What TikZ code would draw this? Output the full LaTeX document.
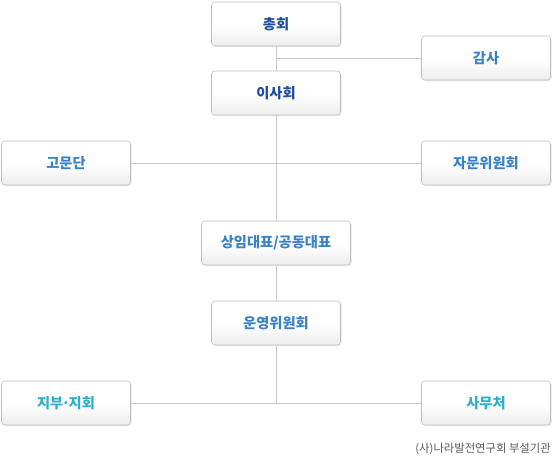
\documentclass[tikz,border=0pt]{standalone}
\usepackage{fontspec}
\setmainfont{Noto Sans CJK KR}
\usetikzlibrary{positioning}
\usetikzlibrary{shadows}

\definecolor{navyblue}{HTML}{1E4F9C}
\definecolor{midblue}{HTML}{3A82C8}
\definecolor{tealblue}{HTML}{2CB0C8}
\definecolor{linegray}{HTML}{C8C8C8}
\definecolor{boxgray}{HTML}{BDBDBD}

\begin{document}
\begin{tikzpicture}[
    x=0.75pt, y=-0.75pt,
    orgbox/.style={draw=boxgray, rounded corners=2.5pt, top color=white, bottom color=black!7,
        middle color=white, minimum width=96.75pt, minimum height=33pt,
        font=\fontsize{10.7}{12}\selectfont\bfseries,
        drop shadow={opacity=0.18, shadow xshift=0.8pt, shadow yshift=-0.8pt}},
    toplevel/.style={orgbox, text=navyblue},
    midlevel/.style={orgbox, text=midblue},
    lowlevel/.style={orgbox, text=tealblue},
    link/.style={draw=linegray, line width=0.6pt}
    ]
    \useasboundingbox (0,0) rectangle (554,461);

    %Nodes
    \node[toplevel] (chonghoe) at (276,24) {총회};
    \node[toplevel] (isahoe) at (276,93) {이사회};
    \node[midlevel] (gamsa) at (486,58) {감사};
    \node[midlevel] (gomun) at (66,163) {고문단};
    \node[midlevel] (jamun) at (486,163) {자문위원회};
    \node[midlevel, minimum width=111.75pt] (daepyo) at (276,243) {상임대표/공동대표};
    \node[midlevel] (unyeong) at (276,323) {운영위원회};
    \node[lowlevel] (jibu) at (66,403) {지부\kern-0.12em·\kern-0.12em지회};
    \node[lowlevel] (samu) at (486,403) {사무처};

    \node[anchor=east, text=black!65, font=\fontsize{8.5}{10}\selectfont, inner sep=0pt] (note) at (551,449) {(사)나라발전연구회 부설기관};

    %Lines
    \draw[link] (chonghoe) -- (isahoe);
    \draw[link] (gamsa.west) -- (gamsa.west -| chonghoe.south);
    \draw[link] (isahoe) -- (daepyo);
    \draw[link] (gomun) -- (jamun);
    \draw[link] (daepyo) -- (unyeong);
    \draw[link] (unyeong.south) -- (unyeong.south |- jibu.east);
    \draw[link] (jibu) -- (samu);
\end{tikzpicture}
\end{document}
